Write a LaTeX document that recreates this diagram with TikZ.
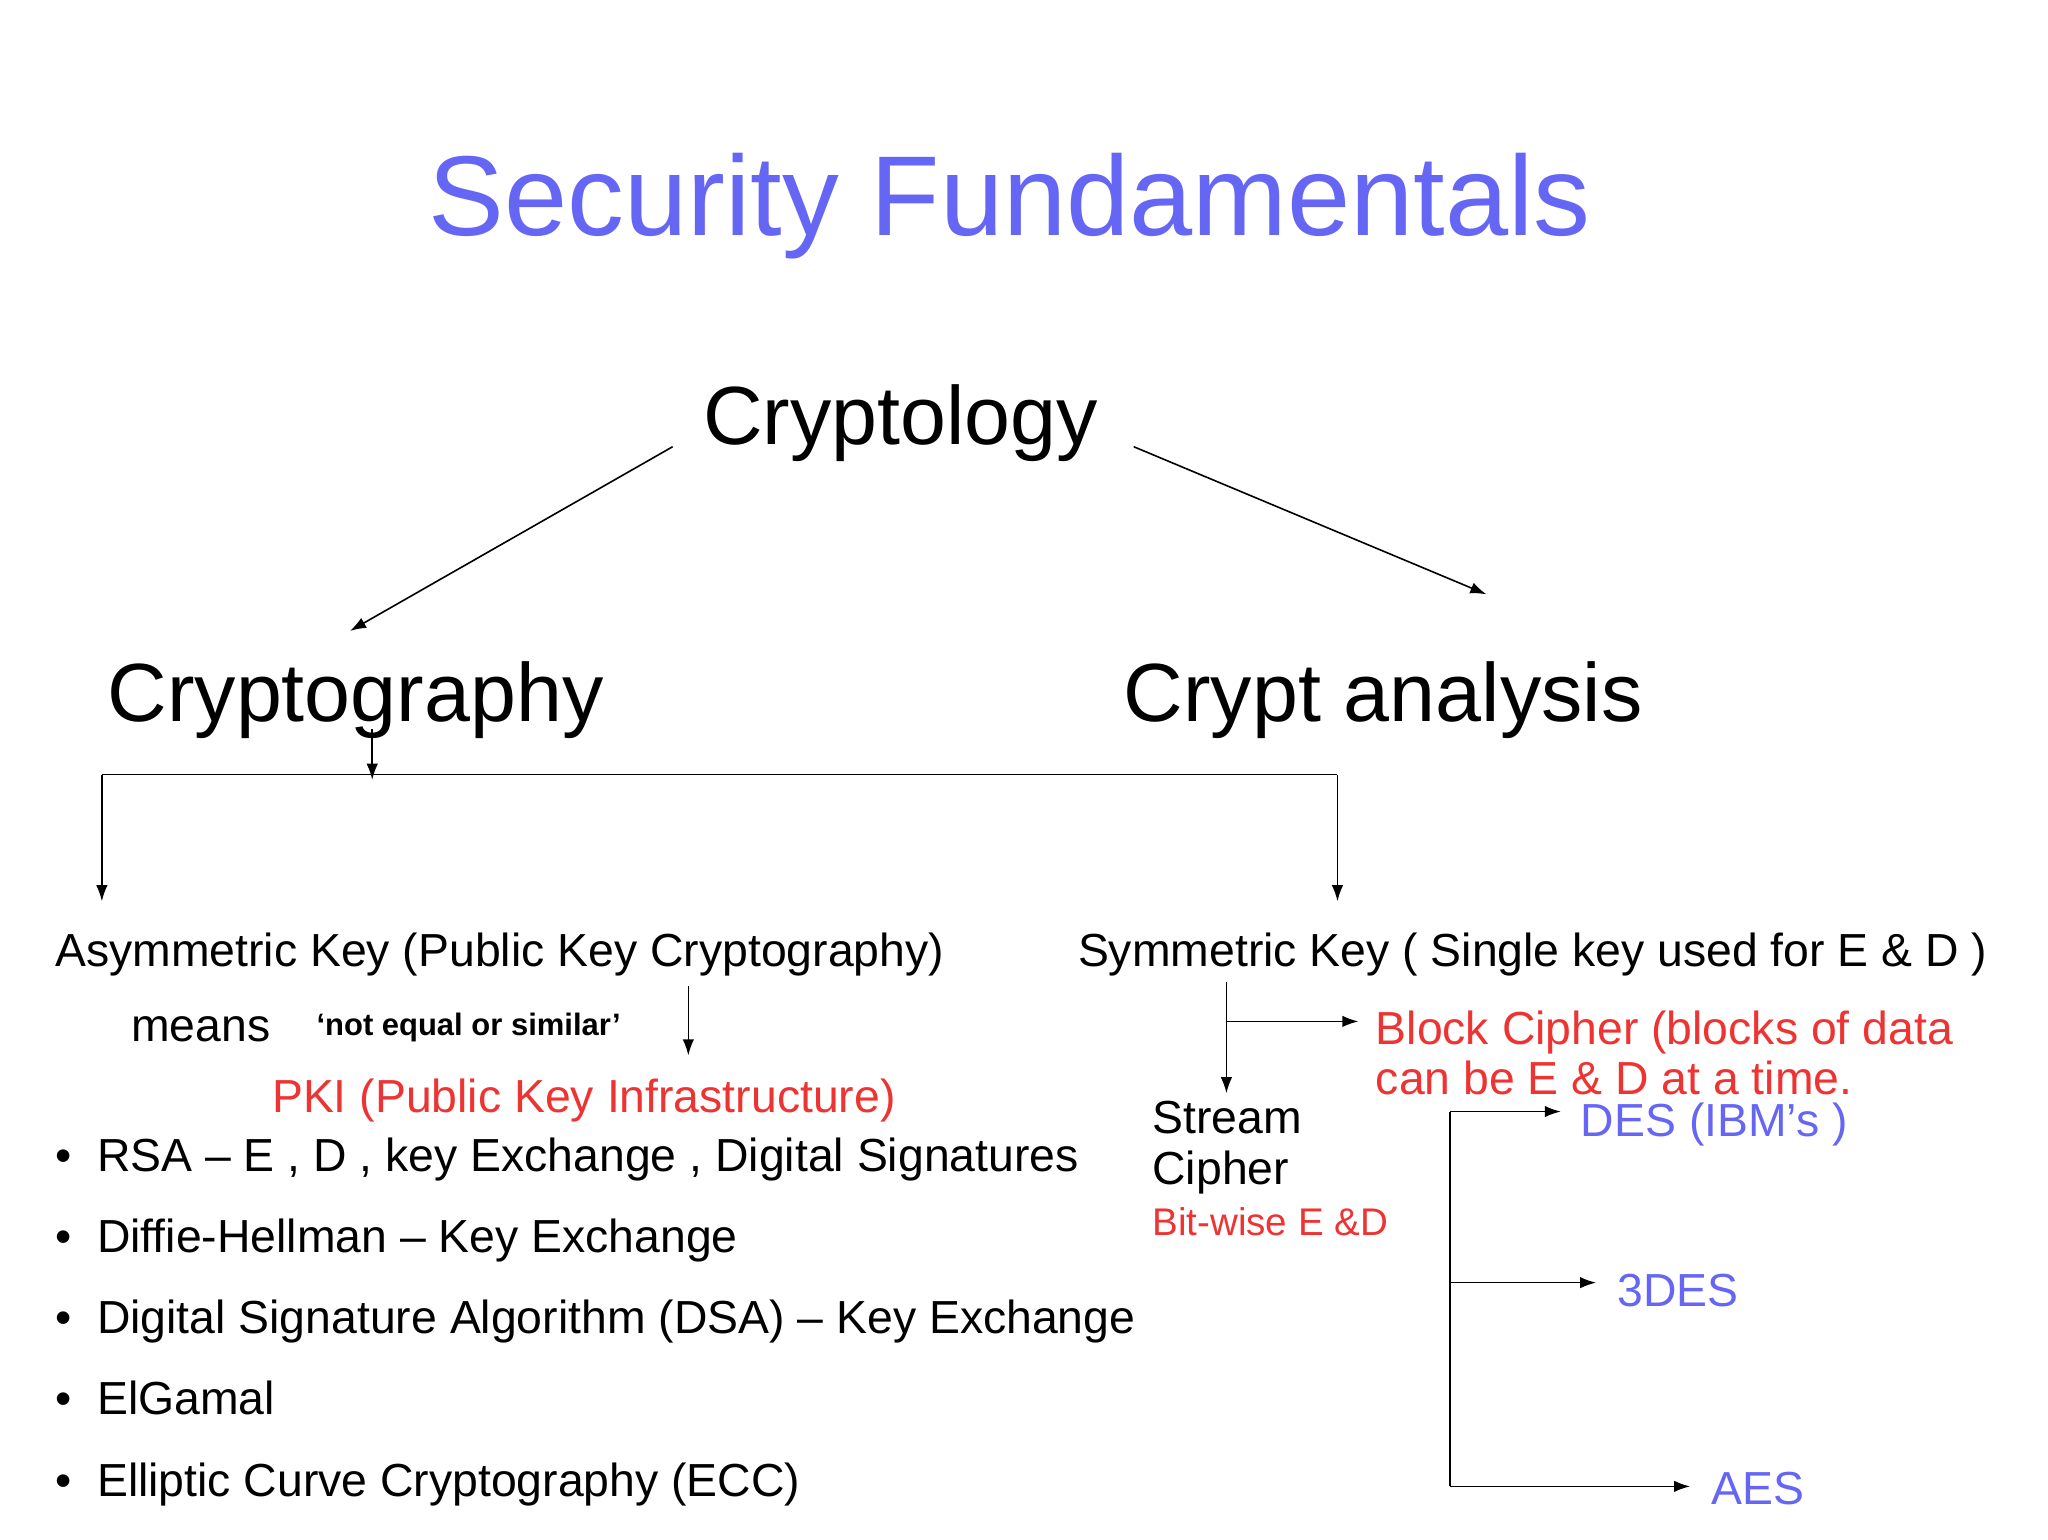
\documentclass[tikz,border=0pt]{standalone}
\usepackage{fontspec}
\setmainfont{Liberation Sans}
\usetikzlibrary{arrows.meta}
\definecolor{tblue}{HTML}{6666F5}
\definecolor{tred}{HTML}{EE3333}
\begin{document}
\begin{tikzpicture}[x=0.02cm,y=-0.02cm,
  t/.style={anchor=base west,inner sep=0pt},
  big/.style={font=\fontsize{36}{42}\selectfont},
  mid/.style={font=\fontsize{20.2}{24}\selectfont},
  arr/.style={-{Latex[length=7pt,width=5pt]},line width=0.7pt},
  ln/.style={line width=0.7pt}]
\useasboundingbox (0,0) rectangle (1568,1178.3);
\node[t,text=tblue,font=\fontsize{49.5}{56}\selectfont] (title) at (328,180) {Security Fundamentals};
\node[t,big] (ctl) at (538,340) {Cryptology};
\node[t,big] (cg) at (82,552) {Cryptography};
\node[t,big] (ca) at (860,552) {Crypt analysis};
\coordinate (a1) at (515,342); \coordinate (a2) at (268,483);
\coordinate (b1) at (868,342); \coordinate (b2) at (1138,455);
\draw[arr] (a1)--(a2);
\draw[arr] (b1)--(b2);
\coordinate (c1) at (285,558); \coordinate (c2) at (285,597);
\draw[arr] (c1)--(c2);
\coordinate (hl) at (78,593); \coordinate (hr) at (1024,593);
\coordinate (dl) at (78,690); \coordinate (dr) at (1024,690);
\draw[ln] (dl|-hl)--(hr);
\draw[arr] (hl)--(dl);
\draw[arr] (hr)--(dr);
\node[t,mid] (asym) at (42,740) {Asymmetric Key (Public Key Cryptography)};
\node[t,mid] (means) at (100,797) {means};
\node[t,font=\bfseries\fontsize{13.5}{16}\selectfont] (neq) at (242,793) {‘not equal or similar’};
\coordinate (p1) at (527,755); \coordinate (p2) at (527,808);
\draw[arr] (p1)--(p2);
\node[t,mid,text=tred] (pki) at (208,852) {PKI (Public Key Infrastructure)};
\foreach \y/\s [count=\i] in {897/{RSA – E , D , key Exchange , Digital Signatures},959/{Diffie-Hellman – Key Exchange},1021/{Digital Signature Algorithm (DSA) – Key Exchange},1083/{ElGamal},1146/{Elliptic Curve Cryptography (ECC)}}{
  \node[t,mid] (bd\i) at (42,\y) {•};
  \node[t,mid] (b\i) at (74,\y) {\s};
}
\node[t,mid] (sym) at (825,740) {Symmetric Key ( Single key used for E \& D )};
\coordinate (s1) at (939,752); \coordinate (s2) at (939,837);
\coordinate (s3) at (939,782); \coordinate (s4) at (1040,782);
\draw[arr] (s1)--(s2);
\draw[arr] (s3)--(s4);
\node[t,mid,text=tred] (blk) at (1053,800) {Block Cipher (blocks of data};
\node[t,mid,text=tred] (blk2) at (1053,838) {can be E \& D at a time.};
\node[t,mid] (st1) at (882,868) {Stream};
\node[t,mid] (st2) at (882,907) {Cipher};
\node[t,text=tred,font=\fontsize{16.8}{20}\selectfont] (bw) at (882,946) {Bit-wise E \&D};
\coordinate (v1) at (1110,851); \coordinate (v2) at (1110,982); \coordinate (v3) at (1110,1138);
\coordinate (e1) at (1195,851); \coordinate (e2) at (1222,982); \coordinate (e3) at (1294,1138);
\draw[ln] (v1)--(v3);
\draw[arr] (v1)--(e1);
\draw[arr] (v2)--(e2);
\draw[arr] (v3)--(e3);
\node[t,mid,text=tblue] (des) at (1210,870) {DES (IBM\char"27 s )};
\node[t,mid,text=tblue] (tdes) at (1238,1000) {3DES};
\node[t,mid,text=tblue] (aes) at (1310,1152) {AES};
\end{tikzpicture}
\end{document}
